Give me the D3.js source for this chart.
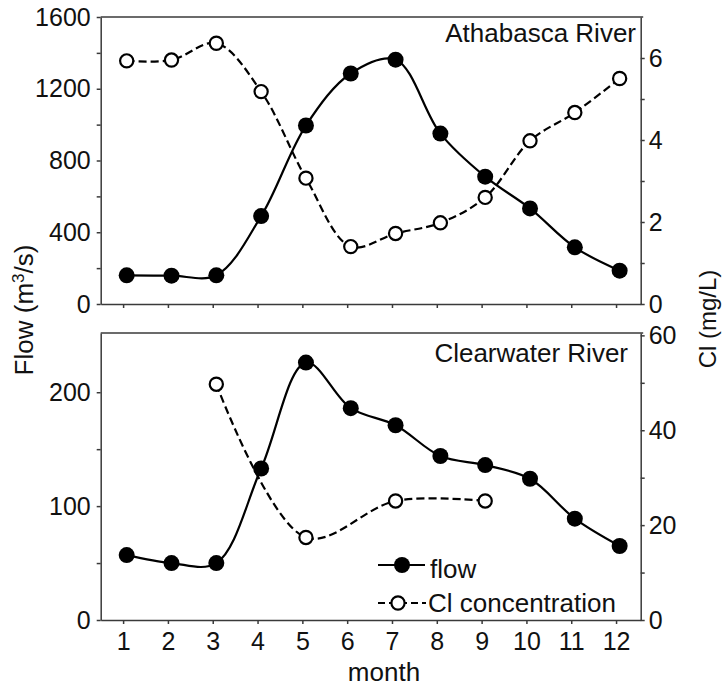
<!DOCTYPE html>
<html>
<head>
<meta charset="utf-8">
<script src="https://cdn.jsdelivr.net/npm/d3@7"></script>
<style>
  body { margin: 0; background: #fff; }
  text { font-family: "Liberation Sans", Arial, Helvetica, sans-serif; fill: #111; }
</style>
</head>
<body>
<div id="graph"></div>
<script>
// month ticks and the sampling positions (points sit a little right of the ticks)
const months = [1, 2, 3, 4, 5, 6, 7, 8, 9, 10, 11, 12];
const sampleMonths = [1.08, 2.08, 3.08, 4.08, 5.08, 6.08, 7.08, 8.08, 9.08, 10.08, 11.08, 12.08];

// Athabasca River
const athaFlow = [160, 158, 160, 490, 995, 1285, 1362, 950, 710, 533, 316, 186];
const athaCl = [5.93, 5.95, 6.36, 5.18, 3.07, 1.40, 1.72, 1.98, 2.60, 3.98, 4.67, 5.50];

// Clearwater River (Cl only sampled in some months)
const clearFlow = [57, 50, 50, 133, 226, 186, 171, 144, 136, 124, 89, 65];
const clearCl = [null, null, 49.7, null, 17.4, null, 25.1, null, 25.1, null, null, null];

// tick values
const athaFlowTicks = [0, 200, 400, 600, 800, 1000, 1200, 1400, 1600];
const athaClTicks = [0, 1, 2, 3, 4, 5, 6];
const clearFlowTicks = [0, 50, 100, 150, 200];
const clearClTicks = [0, 10, 20, 30, 40, 50, 60];

const W = 723, H = 688;
const left = 100.7, right = 640.7;

const svg = d3.select("#graph")
  .append("svg")
    .attr("width", W)
    .attr("height", H);

svg.append("rect").attr("width", W).attr("height", H).attr("fill", "#fff");

const x = d3.scaleLinear()
  .domain([0.5, 12.55])
  .range([left, right]);

const panels = [
  { name: "Athabasca River", top: 17, bottom: 304, flow: athaFlow, cl: athaCl,
    flowDomain: [0, 1600], clDomain: [0, 7],
    flowTicks: athaFlowTicks, flowStep: 400, clTicks: athaClTicks, clStep: 2,
    titleX: 636, titleY: 42, showX: false },
  { name: "Clearwater River", top: 333, bottom: 620, flow: clearFlow, cl: clearCl,
    flowDomain: [0, 252], clDomain: [0, 60.5],
    flowTicks: clearFlowTicks, flowStep: 100, clTicks: clearClTicks, clStep: 20,
    titleX: 628, titleY: 362, showX: true }
];

const axisColor = "#3a3a3a";

function styleAxis(g) {
  g.selectAll("path, line").attr("stroke", axisColor).attr("stroke-width", 1.5);
  g.selectAll("text").attr("font-size", 25).attr("fill", "#111")
    .attr("font-family", "\"Liberation Sans\", Arial, Helvetica, sans-serif");
}

panels.forEach(p => {
  const yFlow = d3.scaleLinear().domain(p.flowDomain).range([p.bottom, p.top]);
  const yCl = d3.scaleLinear().domain(p.clDomain).range([p.bottom, p.top]);

  // frame top line
  svg.append("line")
    .attr("x1", left).attr("x2", right + 2.5)
    .attr("y1", p.top).attr("y2", p.top)
    .attr("stroke", axisColor).attr("stroke-width", 1.5);

  svg.append("g")
    .attr("transform", "translate(" + left + ",0)")
    .call(d3.axisLeft(yFlow).tickValues(p.flowTicks).tickSize(4).tickPadding(6).tickSizeOuter(0)
      .tickFormat(d => d % p.flowStep === 0 ? d : ""))
    .call(styleAxis);

  svg.append("g")
    .attr("transform", "translate(" + right + ",0)")
    .call(d3.axisRight(yCl).tickValues(p.clTicks).tickSize(4).tickPadding(4).tickSizeOuter(0)
      .tickFormat(d => d % p.clStep === 0 ? d : ""))
    .call(styleAxis);

  svg.append("g")
    .attr("transform", "translate(0," + p.bottom + ")")
    .call(d3.axisBottom(x).tickValues(months).tickSize(4).tickPadding(8).tickSizeOuter(0)
      .tickFormat(d => p.showX ? d : ""))
    .call(styleAxis);

  const flowPts = p.flow.map((v, i) => [sampleMonths[i], v]);
  const clPts = p.cl.map((v, i) => [sampleMonths[i], v]).filter(d => d[1] !== null);

  const flowLine = d3.line()
    .x(d => x(d[0])).y(d => yFlow(d[1]))
    .curve(d3.curveCatmullRom.alpha(0.5));
  const clLine = d3.line()
    .x(d => x(d[0])).y(d => yCl(d[1]))
    .curve(d3.curveCatmullRom.alpha(0.5));

  svg.append("path")
    .attr("d", clLine(clPts))
    .attr("fill", "none").attr("stroke", "#000")
    .attr("stroke-width", 2.2).attr("stroke-dasharray", "8,4");

  svg.append("path")
    .attr("d", flowLine(flowPts))
    .attr("fill", "none").attr("stroke", "#000")
    .attr("stroke-width", 2.2);

  svg.selectAll(null)
    .data(clPts)
    .enter()
    .append("circle")
      .attr("cx", d => x(d[0]))
      .attr("cy", d => yCl(d[1]))
      .attr("r", 6.6)
      .attr("fill", "#fff").attr("stroke", "#000").attr("stroke-width", 2.2);

  svg.selectAll(null)
    .data(flowPts)
    .enter()
    .append("circle")
      .attr("cx", d => x(d[0]))
      .attr("cy", d => yFlow(d[1]))
      .attr("r", 8)
      .attr("fill", "#000");

  svg.append("text")
    .attr("x", p.titleX).attr("y", p.titleY)
    .attr("text-anchor", "end")
    .attr("font-size", 26)
    .text(p.name);
});

// axis titles
const flowLabel = svg.append("text")
  .attr("transform", "translate(33,310) rotate(-90)")
  .attr("text-anchor", "middle")
  .attr("font-size", 26);
flowLabel.append("tspan").text("Flow (m");
flowLabel.append("tspan").attr("font-size", 17).attr("dy", -9).text("3");
flowLabel.append("tspan").attr("dy", 9).text("/s)");

svg.append("text")
  .attr("transform", "translate(716,319) rotate(-90)")
  .attr("text-anchor", "middle")
  .attr("font-size", 24)
  .text("Cl (mg/L)");

svg.append("text")
  .attr("x", 384).attr("y", 681)
  .attr("text-anchor", "middle")
  .attr("font-size", 26)
  .text("month");

// legend
const legend = svg.append("g");
legend.append("line")
  .attr("x1", 378).attr("x2", 425).attr("y1", 565).attr("y2", 565)
  .attr("stroke", "#000").attr("stroke-width", 2.2);
legend.append("circle")
  .attr("cx", 402).attr("cy", 565).attr("r", 8).attr("fill", "#000");
legend.append("text")
  .attr("x", 430).attr("y", 578).attr("font-size", 26).text("flow");

legend.append("line")
  .attr("x1", 378).attr("x2", 426).attr("y1", 603).attr("y2", 603)
  .attr("stroke", "#000").attr("stroke-width", 2.2).attr("stroke-dasharray", "7,4");
legend.append("circle")
  .attr("cx", 398).attr("cy", 603).attr("r", 6.6)
  .attr("fill", "#fff").attr("stroke", "#000").attr("stroke-width", 2.2);
legend.append("text")
  .attr("x", 428).attr("y", 612).attr("font-size", 26).text("Cl concentration");
</script>
</body>
</html>
